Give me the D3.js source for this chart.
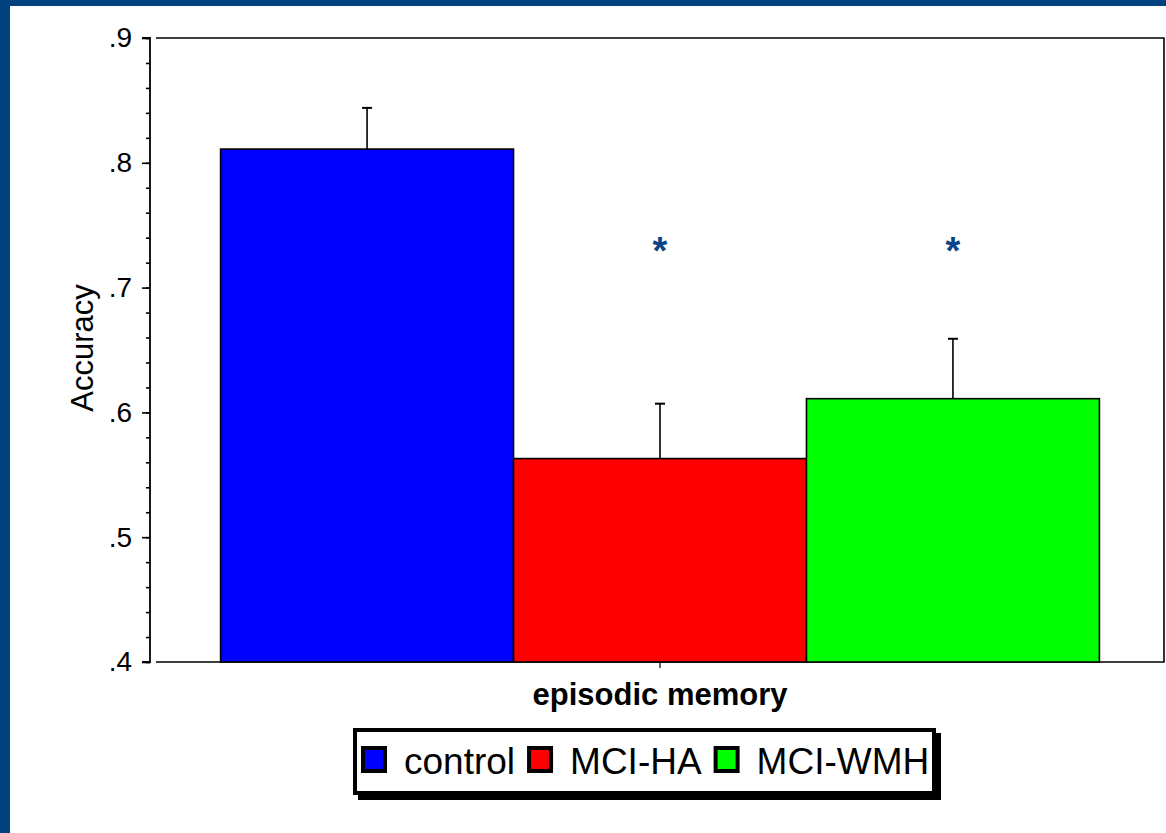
<!DOCTYPE html>
<html>
<head>
<meta charset="utf-8">
<script src="https://cdn.jsdelivr.net/npm/d3@7/dist/d3.min.js"></script>
<style>
  html, body { margin: 0; padding: 0; background: #ffffff; }
  svg { display: block; }
  text { font-family: Arial, "Liberation Sans", sans-serif; }
</style>
</head>
<body>
<svg id="chart" width="1166" height="833"></svg>
<script>
// Mean accuracy per group on the episodic memory task
const categories = ["episodic memory"];
const groups = ["control", "MCI-HA", "MCI-WMH"];
const means = [0.811, 0.563, 0.611];
const errorTops = [0.844, 0.607, 0.659];
const significant = [false, true, true];
const yTicks = [0.4, 0.5, 0.6, 0.7, 0.8, 0.9];
const yMinorTicks = d3.range(0.4, 0.9001, 0.02);
const colors = ["#0000ff", "#ff0000", "#00ff00"];

const svg = d3.select("#chart");
const W = 1166, H = 833;
const frameBlue = "#02417f";

// slide frame
svg.append("rect").attr("x", 0).attr("y", 0).attr("width", W).attr("height", 6).attr("fill", frameBlue);
svg.append("rect").attr("x", 0).attr("y", 0).attr("width", 10).attr("height", H).attr("fill", frameBlue);

const plot = { left: 156, right: 1164, top: 38, bottom: 662, axisX: 150 };

const y = d3.scaleLinear().domain([0.4, 0.9]).range([plot.bottom, plot.top]);
const x0 = d3.scaleBand().domain(categories).range([plot.left, plot.right]).paddingInner(0).paddingOuter(0.0735);
const x1 = d3.scaleBand().domain(groups).range([0, x0.bandwidth()]).padding(0);

// plot frame (top, right, bottom)
const g = svg.append("g");
g.append("path")
  .attr("d", `M${plot.left},${plot.top}H${plot.right}V${plot.bottom}H${plot.left}`)
  .attr("fill", "none").attr("stroke", "#000").attr("stroke-width", 1.6);

// bars
const cat = categories[0];
g.selectAll("rect.bar").data(groups).enter().append("rect")
  .attr("class", "bar")
  .attr("x", (d) => x0(cat) + x1(d))
  .attr("y", (d, i) => y(means[i]))
  .attr("width", x1.bandwidth())
  .attr("height", (d, i) => y(0.4) - y(means[i]))
  .attr("fill", (d, i) => colors[i])
  .attr("stroke", "#000").attr("stroke-width", 1.6);

// error bars (upper only) and significance marks
groups.forEach((d, i) => {
  const cx = x0(cat) + x1(d) + x1.bandwidth() / 2;
  g.append("line").attr("x1", cx).attr("x2", cx)
    .attr("y1", y(means[i])).attr("y2", y(errorTops[i]))
    .attr("stroke", "#000").attr("stroke-width", 1.6);
  g.append("line").attr("x1", cx - 5).attr("x2", cx + 5)
    .attr("y1", y(errorTops[i])).attr("y2", y(errorTops[i]))
    .attr("stroke", "#000").attr("stroke-width", 2);
  if (significant[i]) {
    g.append("text").attr("x", cx).attr("y", 264)
      .attr("text-anchor", "middle").attr("font-size", 38).attr("font-weight", "bold")
      .attr("fill", "#0a4386").text("*");
  }
});

// y axis
const fmt = (v) => d3.format(".1f")(v).replace(/^0/, "");
const yAxis = d3.axisLeft(y).tickValues(yTicks).tickFormat(fmt).tickSize(8).tickPadding(10);
const ya = svg.append("g").attr("transform", `translate(${plot.axisX},0)`).call(yAxis);
ya.attr("font-size", 28).attr("font-family", "Arial, 'Liberation Sans', sans-serif");
ya.select(".domain").attr("stroke", "#000").attr("stroke-width", 1.8).attr("d", `M-8,${plot.top}H0V${plot.bottom}H-8`);
ya.selectAll(".tick line").attr("stroke", "#000").attr("stroke-width", 1.6);
ya.selectAll(".tick text").attr("fill", "#000");
const yMinor = d3.axisLeft(y).tickValues(yMinorTicks).tickFormat("").tickSize(4);
const ym = svg.append("g").attr("transform", `translate(${plot.axisX},0)`).call(yMinor);
ym.select(".domain").remove();
ym.selectAll(".tick line").attr("stroke", "#000").attr("stroke-width", 1.6);

svg.append("text")
  .attr("transform", `translate(93,${(plot.top + plot.bottom) / 2 - 2}) rotate(-90)`)
  .attr("text-anchor", "middle").attr("font-size", 31).attr("fill", "#000").text("Accuracy");

// x axis tick and category label
const xAxis = d3.axisBottom(x0).tickSize(6).tickPadding(12);
const xa = svg.append("g").attr("transform", `translate(0,${plot.bottom})`).call(xAxis);
xa.attr("font-size", 31).attr("font-weight", "bold").attr("font-family", "Arial, 'Liberation Sans', sans-serif");
xa.select(".domain").remove();
xa.selectAll(".tick line").attr("stroke", "#000").attr("stroke-width", 1.2);
xa.selectAll(".tick text").attr("fill", "#000").attr("dy", "0.71em").attr("y", 21);

// legend
const leg = { x: 353, y: 728, w: 583, h: 67, shadow: 5 };
svg.append("rect").attr("x", leg.x + leg.shadow).attr("y", leg.y + leg.shadow)
  .attr("width", leg.w).attr("height", leg.h).attr("fill", "#000");
svg.append("rect").attr("x", leg.x + 2).attr("y", leg.y + 2)
  .attr("width", leg.w - 4).attr("height", leg.h - 4)
  .attr("fill", "#fff").attr("stroke", "#000").attr("stroke-width", 4);

let lx = 361;
groups.forEach((d, i) => {
  svg.append("rect").attr("x", lx + 2).attr("y", 748)
    .attr("width", 22).attr("height", 23)
    .attr("fill", colors[i]).attr("stroke", "#000").attr("stroke-width", 4);
  const t = svg.append("text").attr("x", lx + 43).attr("y", 774)
    .attr("font-size", 37).attr("fill", "#000").text(d);
  lx = lx + 43 + t.node().getComputedTextLength() + 12;
});
</script>
</body>
</html>
